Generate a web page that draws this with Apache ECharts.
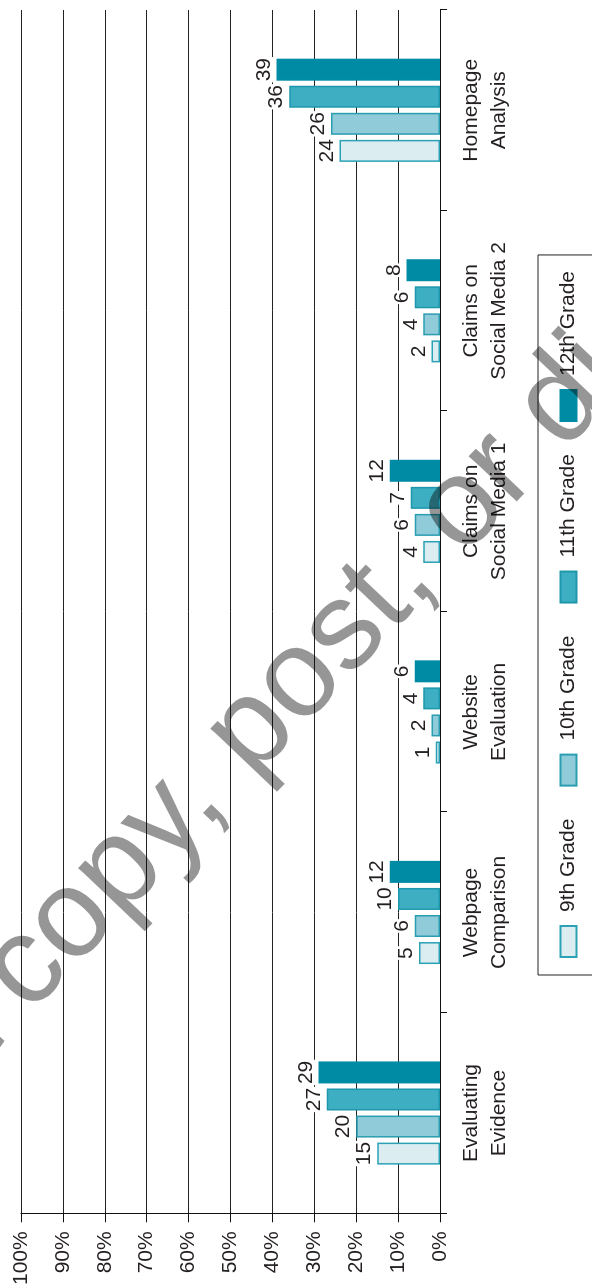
<!DOCTYPE html>
<html>
<head>
<meta charset="utf-8">
<script src="https://cdn.jsdelivr.net/npm/echarts@6/dist/echarts.min.js"></script>
<style>
  html, body { margin: 0; padding: 0; background: #fff; overflow: hidden; }
  /* The chart is laid out landscape (1288 x 592) and turned a quarter turn
     counter-clockwise so that it reads bottom-to-top on the portrait page. */
  #chart {
    position: absolute; left: 0; top: 0;
    width: 1288px; height: 592px;
    transform-origin: 0 0;
    transform: translate(0, 1288px) rotate(-90deg);
  }
</style>
</head>
<body>
<div id="chart"></div>
<script>
// Tasks assessed, one group of bars each
const categories = [
  'Evaluating\nEvidence',
  'Webpage\nComparison',
  'Website\nEvaluation',
  'Claims on\nSocial Media 1',
  'Claims on\nSocial Media 2',
  'Homepage\nAnalysis'
];

// Percentage of students in each grade who succeeded on the task
const grade9  = [15, 5, 1, 4, 2, 24];
const grade10 = [20, 6, 2, 6, 4, 26];
const grade11 = [27, 10, 4, 7, 6, 36];
const grade12 = [29, 12, 6, 12, 8, 39];

const seriesNames = ['9th Grade', '10th Grade', '11th Grade', '12th Grade'];
const seriesValues = [grade9, grade10, grade11, grade12];

const FONT = '"Liberation Sans", Arial, Helvetica, sans-serif';
const INK = '#231f20';

const fills   = ['#dcedf1', '#8fcbd8', '#3eafc2', '#008ba5'];
const borders = ['#2aa1b5', '#2a9db1', '#1e97ac', '#008ba5'];

const series = seriesNames.map((name, i) => ({
  name,
  type: 'bar',
  data: seriesValues[i],
  barWidth: 22,
  barGap: '23%',
  itemStyle: { color: fills[i], borderColor: borders[i], borderWidth: 1.5 },
  label: {
    show: true,
    position: 'top',
    distance: 2,
    fontFamily: FONT,
    fontSize: 21,
    color: INK,
    backgroundColor: '#fff',
    padding: [0, 1, 0, 1]
  },
  z: 3
}));

const chart = echarts.init(document.getElementById('chart'), null, { width: 1288, height: 592 });

chart.setOption({
  animation: false,
  backgroundColor: '#fff',
  textStyle: { fontFamily: FONT },
  grid: { left: 74, right: 10, top: 21, bottom: 152 },
  legend: {
    data: seriesNames,
    icon: 'rect',
    left: 313,
    top: 538,
    orient: 'horizontal',
    padding: [20, 16, 20, 17],
    borderColor: '#222',
    borderWidth: 1,
    itemWidth: 31,
    itemHeight: 16,
    itemGap: 32,
    textStyle: { fontFamily: FONT, fontSize: 21, color: INK, padding: [0, 0, 0, 9] }
  },
  xAxis: {
    type: 'category',
    data: categories,
    boundaryGap: true,
    axisLine: { lineStyle: { color: '#111', width: 1 } },
    axisTick: { show: true, length: 7, lineStyle: { color: '#111' } },
    axisLabel: {
      margin: 17,
      fontFamily: FONT,
      fontSize: 21,
      lineHeight: 28,
      color: INK,
      interval: 0
    }
  },
  yAxis: {
    type: 'value',
    min: 0,
    max: 100,
    interval: 10,
    axisLine: { show: true, lineStyle: { color: '#111', width: 1 } },
    axisTick: { show: true, length: 9, lineStyle: { color: '#111' } },
    axisLabel: {
      margin: 18,
      fontFamily: FONT,
      fontSize: 21,
      color: INK,
      formatter: '{value}%'
    },
    splitLine: { show: true, lineStyle: { color: '#222', width: 1 } }
  },
  graphic: [{
    type: 'text',
    silent: true,
    z: 100,
    x: 4,
    y: -273,
    rotation: -0.759,
    style: {
      text: 'Do not copy, post, or distribute',
      font: '125px ' + FONT,
      fill: 'rgba(0,0,0,0.41)',
      textAlign: 'left',
      textVerticalAlign: 'middle',
      align: 'left',
      verticalAlign: 'middle'
    }
  }],
  series
});
</script>
</body>
</html>
